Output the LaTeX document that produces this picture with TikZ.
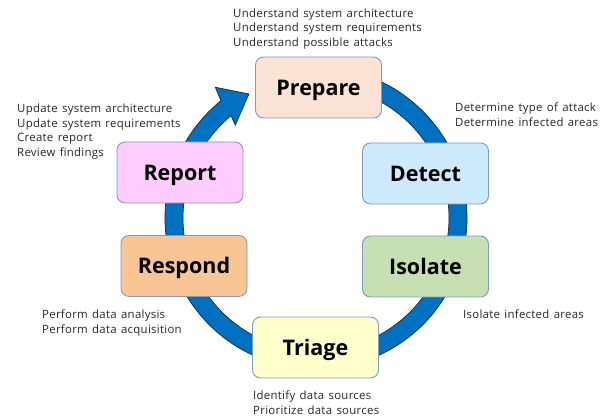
\documentclass[tikz,border=0pt]{standalone}
\usepackage{fontspec}
\setmainfont{Open Sans}
\newfontfamily\notefont[LetterSpace=2.5,WordSpace=1.35]{Open Sans}
\usepackage{tikz}
\usetikzlibrary{arrows.meta,positioning,calc}
\usepackage{xcolor}
\definecolor{CycleBlue}{HTML}{0070C0}
\definecolor{CycleEdge}{HTML}{1A2B45}
\definecolor{BoxEdge}{HTML}{7A9CC0}
\definecolor{NoteText}{HTML}{262626}
\definecolor{PrepareFill}{HTML}{FBE3D6}
\definecolor{DetectFill}{HTML}{CDEBFC}
\definecolor{IsolateFill}{HTML}{C6E0B4}
\definecolor{TriageFill}{HTML}{FFFFCC}
\definecolor{RespondFill}{HTML}{F9C594}
\definecolor{ReportFill}{HTML}{FFCCFF}
\tikzset{
  phasenode/.style={draw=BoxEdge,line width=0.9pt,rounded corners=8pt,minimum width=126pt,minimum height=61pt,align=center,text height=15.4pt,text depth=0pt,font=\fontsize{21.5}{24}\selectfont\bfseries},
  notenode/.style={align=left,anchor=base west,inner sep=0pt,text=NoteText,font=\notefont\fontsize{11.4}{14.7}\selectfont},
  cyclearrow/.style={fill=CycleBlue,draw=CycleEdge,line width=0.7pt,line join=miter}
}
\begin{document}
\begin{tikzpicture}[x=1pt,y=1pt]
\useasboundingbox (0,0) rectangle (606,419);
% the big clockwise arrow behind the phases
\begin{scope}[shift={(316,201)}]
\filldraw[cyclearrow] (75:151) arc[start angle=75,end angle=-231,radius=151]
  -- (-232.4:165) -- (-241.6:141) -- (-229:123) -- (-230.3:133)
  arc[start angle=-230.3,end angle=75,radius=133] -- cycle;
\end{scope}
% phases
\node[phasenode,fill=PrepareFill] (prepare) at (318.5,331.5) {Prepare};
\node[phasenode,fill=DetectFill] (detect) at (425.5,245.5) {Detect};
\node[phasenode,fill=IsolateFill] (isolate) at (425.5,152.5) {Isolate};
\node[phasenode,fill=TriageFill] (triage) at (315.5,71.5) {Triage};
\node[phasenode,fill=RespondFill] (respond) at (184,153) {Respond};
\node[phasenode,fill=ReportFill] (report) at (180,246.5) {Report};
% tasks of each phase (anchored on the last line)
\node[notenode] (prepnotes) at (233,372.3) {Understand system architecture\\Understand system requirements\\Understand possible attacks};
\node[notenode] (detnotes) at (455,292.3) {Determine type of attack\\Determine infected areas};
\node[notenode] (isonotes) at (463,100.7) {Isolate infected areas};
\node[notenode] (trinotes) at (253,4.3) {Identify data sources\\Prioritize data sources};
\node[notenode] (resnotes) at (42,85.7) {Perform data analysis\\Perform data acquisition};
\node[notenode] (repnotes) at (17,262.3) {Update system architecture\\Update system requirements\\Create report\\Review findings};
\end{tikzpicture}
\end{document}
